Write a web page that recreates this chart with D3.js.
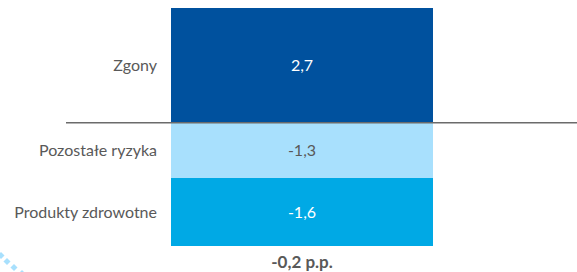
<!DOCTYPE html>
<html>
<head>
<meta charset="utf-8">
<script src="https://cdn.jsdelivr.net/npm/d3@7"></script>
<style>
  body { margin: 0; background: #fff; }
  svg { display: block; font-family: "Source Sans Pro", Lato, "Noto Sans", sans-serif; }
</style>
</head>
<body>
<div id="chart"></div>
<script>
// Data
const categories = ["Zgony", "Pozostałe ryzyka", "Produkty zdrowotne"];
const values = [2.7, -1.3, -1.6];
const totalLabel = "-0,2 p.p.";

const colors = ["#00519e", "#a8e0fd", "#00a9e5"];
const valueColors = ["#ffffff", "#595959", "#ffffff"];

const svgWidth = 577;
const svgHeight = 272;

const svg = d3.select("#chart")
  .append("svg")
  .attr("width", svgWidth)
  .attr("height", svgHeight);

// Stack positives up, negatives down from zero
let pos = 0, neg = 0;
const stacked = values.map((v, i) => {
  let y0, y1;
  if (v >= 0) { y0 = pos; y1 = pos + v; pos = y1; }
  else { y0 = neg; y1 = neg + v; neg = y1; }
  return { name: categories[i], value: v, y0: y0, y1: y1, i: i };
});

const yScale = d3.scaleLinear()
  .domain([-2.9, 2.7])
  .range([246, 8]);

const xScale = d3.scaleBand()
  .domain(["total"])
  .range([171, 433]);

// polish decimal comma, plain hyphen for minus
const locale = d3.formatLocale({ decimal: ",", thousands: " ", grouping: [3], currency: ["", ""], minus: "-" });
const fmt = locale.format(".1f");

// bars
svg.selectAll("rect.bar")
  .data(stacked)
  .join("rect")
  .attr("class", "bar")
  .attr("x", xScale("total"))
  .attr("width", xScale.bandwidth())
  .attr("y", d => yScale(Math.max(d.y0, d.y1)))
  .attr("height", d => Math.abs(yScale(d.y0) - yScale(d.y1)))
  .attr("fill", d => colors[d.i]);

// zero line
svg.append("line")
  .attr("x1", 66)
  .attr("x2", svgWidth)
  .attr("y1", yScale(0))
  .attr("y2", yScale(0))
  .attr("stroke", "#6b6b6b")
  .attr("stroke-width", 1.5);

// value labels
svg.selectAll("text.val")
  .data(stacked)
  .join("text")
  .attr("class", "val")
  .attr("x", xScale("total") + xScale.bandwidth() / 2)
  .attr("y", d => yScale((d.y0 + d.y1) / 2))
  .attr("dy", "0.35em")
  .attr("text-anchor", "middle")
  .attr("font-size", 16)
  .attr("fill", d => valueColors[d.i])
  .text(d => fmt(d.value));

// category labels
svg.selectAll("text.cat")
  .data(stacked)
  .join("text")
  .attr("class", "cat")
  .attr("x", 157)
  .attr("y", d => yScale((d.y0 + d.y1) / 2))
  .attr("dy", "0.35em")
  .attr("text-anchor", "end")
  .attr("font-size", 16)
  .attr("fill", "#595959")
  .text(d => d.name);

// total label
svg.append("text")
  .attr("x", xScale("total") + xScale.bandwidth() / 2)
  .attr("y", 268)
  .attr("text-anchor", "middle")
  .attr("font-size", 17)
  .attr("font-weight", "bold")
  .attr("fill", "#595959")
  .text(totalLabel);

// decorative dots bottom-left
const dots = [[1, 252], [7, 258], [14, 264], [22, 270]];
svg.selectAll("rect.dot")
  .data(dots)
  .join("rect")
  .attr("class", "dot")
  .attr("width", 5)
  .attr("height", 5)
  .attr("fill", "#a8e0fd")
  .attr("transform", d => `translate(${d[0]},${d[1]}) rotate(45)`);
</script>
</body>
</html>
